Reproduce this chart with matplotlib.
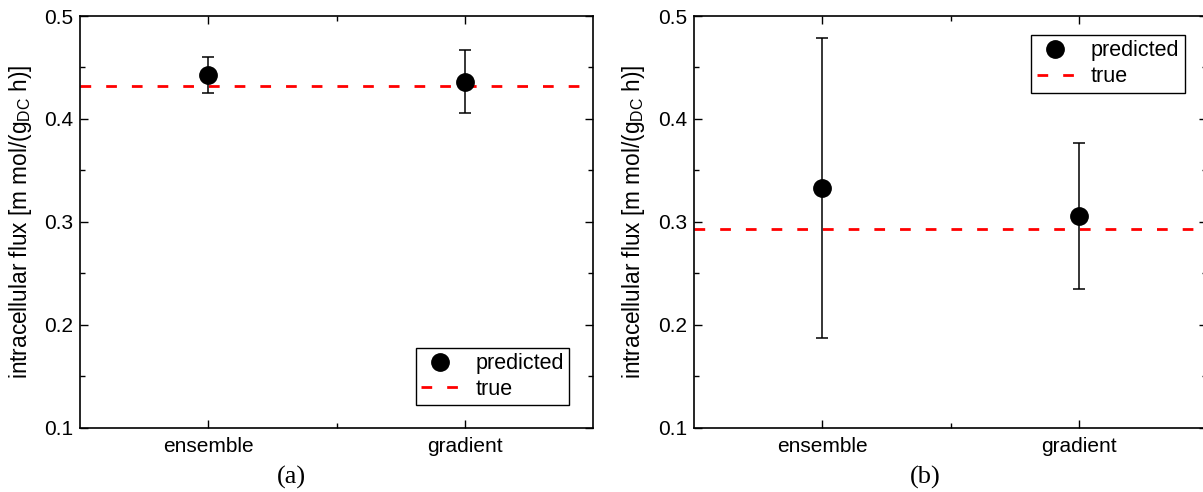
import matplotlib
matplotlib.use("Agg")
import matplotlib.pyplot as plt
from matplotlib.ticker import MultipleLocator, FixedLocator

plt.rcParams["font.family"] = ["Liberation Sans", "DejaVu Sans"]
plt.rcParams["mathtext.default"] = "regular"

# Data
methods = ["ensemble", "gradient"]
pred_a = [0.443, 0.436]
err_a = [0.0175, 0.0305]
true_a = 0.432
pred_b = [0.333, 0.306]
err_b = [0.146, 0.071]
true_b = 0.293
panel_tags = ["(a)", "(b)"]

ylabel = "intracellular flux [m mol/(g$_{DC}$ h)]"

fig = plt.figure(figsize=(12.03, 4.92), dpi=100)
W, H = 1203, 492
ax_w = 513.3 / W
ax_h = (427.7 - 16) / H
ax_y0 = 1 - 427.7 / H
axes = [fig.add_axes([80 / W, ax_y0, ax_w, ax_h]),
        fig.add_axes([694 / W, ax_y0, ax_w, ax_h])]

panels = [(pred_a, err_a, true_a), (pred_b, err_b, true_b)]
legend_locs = [("lower right", (569.3, 405.3)), ("upper right", (1184.7, 35))]
label_x = [-0.089, -0.091]
tag_x = [291, 925]

for i, (ax, (pred, err, tru)) in enumerate(zip(axes, panels)):
    xpos = list(range(1, len(methods) + 1))
    ax.errorbar(xpos, pred, yerr=err, fmt="o", color="black", ms=12.5,
                ecolor="black", elinewidth=1.1, capsize=4.3, capthick=1.1,
                zorder=3)
    line = ax.axhline(tru, color="red", lw=2.0, dashes=(3.85, 5.4), zorder=2)

    ax.set_xlim(0.5, 2.5)
    ax.set_ylim(0.1, 0.5)
    ax.xaxis.set_major_locator(FixedLocator(xpos))
    ax.xaxis.set_minor_locator(FixedLocator([1.5]))
    ax.set_xticklabels(methods)
    ax.yaxis.set_major_locator(MultipleLocator(0.1))
    ax.yaxis.set_minor_locator(MultipleLocator(0.05))
    ax.tick_params(which="both", direction="in", top=True, right=True,
                   labelsize=15, width=1.0)
    ax.tick_params(axis="x", pad=7)
    ax.tick_params(axis="y", pad=5)
    ax.tick_params(which="major", length=6)
    ax.tick_params(which="minor", length=3.6)
    for s in ax.spines.values():
        s.set_linewidth(1.2)

    ax.set_ylabel(ylabel, fontsize=16.3)
    ax.yaxis.set_label_coords(label_x[i], 0.5)

    marker_handle = plt.Line2D([], [], marker="o", ls="none", color="black", ms=12.5)
    loc, (bx, by) = legend_locs[i]
    leg = ax.legend([marker_handle, line], ["predicted", "true"], loc=loc,
                    bbox_to_anchor=(bx / W, 1 - by / H),
                    bbox_transform=fig.transFigure,
                    fontsize=15.5, frameon=True, fancybox=False, framealpha=1,
                    edgecolor="black", handlelength=1.72, handletextpad=0.8,
                    borderpad=0.25, labelspacing=0.22, borderaxespad=0)
    leg.get_frame().set_linewidth(1.0)

    fig.text(tag_x[i] / W, 1 - 477 / H, panel_tags[i], ha="center", va="center",
             fontsize=19, family=["Liberation Serif", "DejaVu Serif"])

fig.savefig("out.png", dpi=100)
